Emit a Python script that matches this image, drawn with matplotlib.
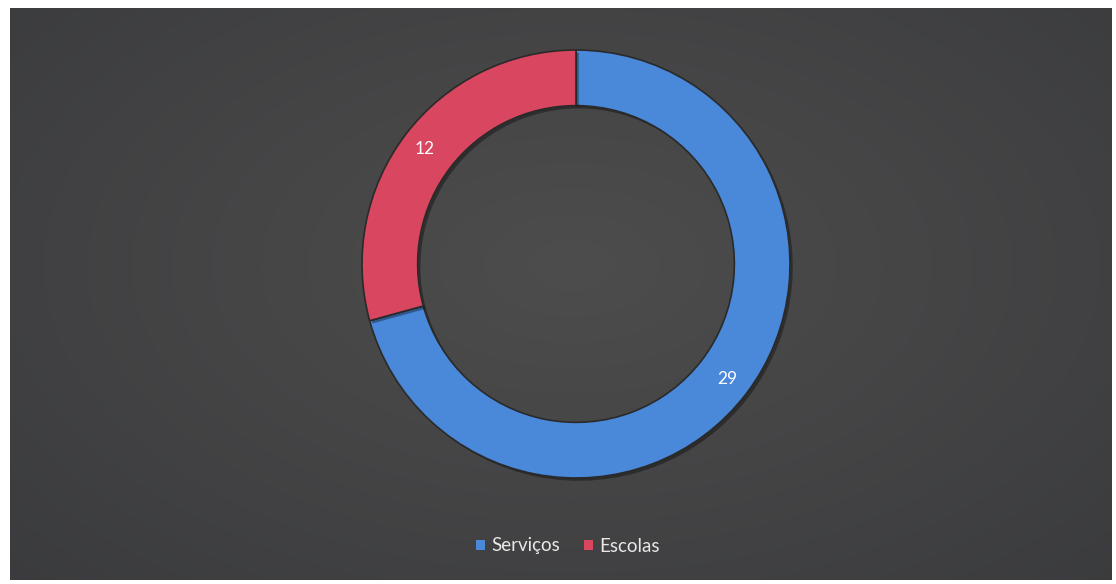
import numpy as np
import matplotlib
matplotlib.use("Agg")
import matplotlib.pyplot as plt
import matplotlib.patheffects as pe

plt.rcParams['font.family'] = ['Lato', 'DejaVu Sans']

categories = ["Serviços", "Escolas"]
values = [29, 12]
colors = ["#4a88d9", "#d8465f"]

W, H = 1116, 584
fig = plt.figure(figsize=(W / 100, H / 100), dpi=100, facecolor="white")

# dark panel with soft radial light
bg = fig.add_axes([10 / W, 4 / H, 1102 / W, 572 / H])
yy, xx = np.mgrid[0:1:300j, 0:1:600j]
d = np.sqrt(((xx - 0.51) / 0.8) ** 2 + ((yy - 0.45) / 0.9) ** 2)
shade = np.clip(1 - d, 0, 1)
img = np.zeros(xx.shape + (3,))
base = np.array([0x38, 0x39, 0x3c]) / 255
top = np.array([0x4e, 0x4d, 0x4d]) / 255
for i in range(3):
    img[..., i] = base[i] + (top[i] - base[i]) * shade
bg.imshow(img, aspect="auto", extent=[0, 1, 0, 1])
bg.set_axis_off()

# donut
size = 440
ax = fig.add_axes([(576 - size / 2) / W, (H - 264 - size / 2) / H, size / W, size / H])
lim = (size / 2) / 214
wedges, texts = ax.pie(values, colors=colors, startangle=90, counterclock=False,
                       radius=1, wedgeprops=dict(width=0.26, edgecolor="#2a2a2a", linewidth=1.2),
                       labels=[str(v) for v in values], labeldistance=0.89,
                       textprops=dict(color="white", fontsize=12.5, ha="center", va="center"))
for w in wedges:
    w.set_path_effects([pe.SimplePatchShadow(offset=(2, -2), shadow_rgbFace="black", alpha=0.35),
                        pe.Normal()])
ax.set_xlim(-lim, lim)
ax.set_ylim(-lim, lim)
ax.set_aspect("equal")
ax.set_axis_off()

leg = fig.legend(wedges, categories, loc="center", bbox_to_anchor=(568 / W, 1 - 546 / H),
                 ncol=2, frameon=False, fontsize=13.5, handlelength=0.45, handleheight=0.45,
                 handletextpad=0.35, columnspacing=1.3, labelcolor="#e8e8e8")
for h in leg.legend_handles:
    h.set_path_effects([])
    h.set_linewidth(0)

fig.savefig("out.png", dpi=100, facecolor="white")
